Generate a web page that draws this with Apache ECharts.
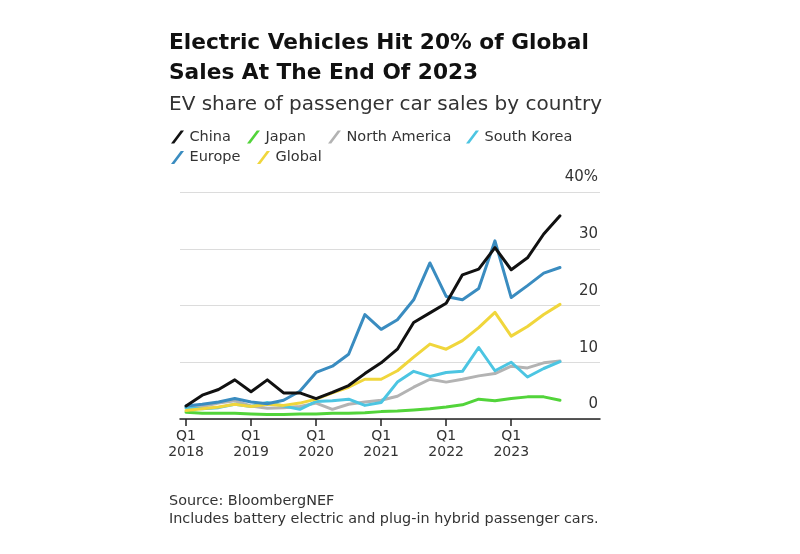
<!DOCTYPE html>
<html>
<head>
<meta charset="utf-8">
<script src="https://cdn.jsdelivr.net/npm/echarts@6/dist/echarts.min.js"></script>
<style>
    html, body { margin: 0; padding: 0; background: #fff; }
    #chart { width: 800px; height: 554px; }
</style>
</head>
<body>
<div id="chart"></div>
<script>
    // quarters Q1 2018 .. Q4 2023
    var quarters = [
        'Q1 2018', 'Q2 2018', 'Q3 2018', 'Q4 2018',
        'Q1 2019', 'Q2 2019', 'Q3 2019', 'Q4 2019',
        'Q1 2020', 'Q2 2020', 'Q3 2020', 'Q4 2020',
        'Q1 2021', 'Q2 2021', 'Q3 2021', 'Q4 2021',
        'Q1 2022', 'Q2 2022', 'Q3 2022', 'Q4 2022',
        'Q1 2023', 'Q2 2023', 'Q3 2023', 'Q4 2023'
    ];
    var tickQuarters = [0, 4, 8, 12, 16, 20];
    var yTicks = [0, 10, 20, 30, 40];

    var china        = [2.3, 4.2, 5.2, 6.9, 4.8, 6.9, 4.6, 4.6, 3.6, 4.7, 5.9, 8.0, 9.9, 12.3, 17.0, 18.7, 20.4, 25.4, 26.4, 30.2, 26.3, 28.4, 32.6, 35.8];
    var japan        = [1.2, 1.0, 1.0, 1.0, 0.9, 0.8, 0.8, 0.9, 0.9, 1.0, 1.0, 1.1, 1.3, 1.4, 1.6, 1.8, 2.1, 2.5, 3.5, 3.2, 3.6, 3.9, 3.9, 3.3];
    var northAmerica = [2.0, 2.2, 2.8, 3.2, 2.3, 1.9, 2.0, 2.2, 2.8, 1.7, 2.6, 3.0, 3.3, 4.0, 5.6, 7.0, 6.5, 7.0, 7.6, 8.0, 9.3, 9.0, 9.9, 10.2];
    var southKorea   = [2.0, 1.8, 2.0, 2.6, 2.2, 2.9, 2.3, 1.7, 3.1, 3.2, 3.5, 2.4, 2.9, 6.5, 8.4, 7.5, 8.2, 8.4, 12.6, 8.5, 10.0, 7.4, 8.9, 10.1];
    var europe       = [2.3, 2.6, 3.0, 3.6, 3.0, 2.7, 3.3, 4.9, 8.2, 9.3, 11.4, 18.4, 15.8, 17.5, 21.0, 27.5, 21.6, 21.0, 23.0, 31.4, 21.4, 23.5, 25.7, 26.7];
    var global       = [1.5, 1.8, 2.1, 2.6, 2.2, 2.6, 2.4, 2.8, 3.5, 4.6, 5.6, 7.0, 7.0, 8.5, 10.9, 13.2, 12.3, 13.8, 16.1, 18.8, 14.6, 16.3, 18.4, 20.2];

    var seriesNames  = ['China', 'Japan', 'North America', 'South Korea', 'Europe', 'Global'];
    var seriesValues = [china, japan, northAmerica, southKorea, europe, global];
    var seriesColors = ['#111111', '#52d43a', '#b3b3b3', '#4cc5e2', '#3a8cc0', '#f0d63c'];
    // drawing order (last on top)
    var drawOrder = [1, 2, 3, 5, 4, 0];
    // legend placement, one legend component per item
    var legendPos = [[171, 129.5], [247, 129.5], [328, 129.5], [466, 129.5], [171, 150], [257, 150]];

    var font = "'DejaVu Sans', 'Liberation Sans', Arial, sans-serif";

    function toPairs(arr) {
        return arr.map(function (v, i) { return [i, v]; });
    }

    var myChart = echarts.init(document.getElementById('chart'), null, { renderer: 'canvas' });

    var series = drawOrder.map(function (k) {
        return {
            name: seriesNames[k],
            type: 'line',
            data: toPairs(seriesValues[k]),
            symbol: 'none',
            smooth: false,
            lineStyle: { color: seriesColors[k], width: 3, join: 'round', cap: 'round' },
            itemStyle: { color: seriesColors[k] },
            emphasis: { disabled: true },
            animation: false
        };
    });

    var legends = seriesNames.map(function (name, k) {
        return {
            data: [name],
            left: legendPos[k][0],
            top: legendPos[k][1],
            padding: 0,
            icon: 'path://M0,12 L9,0 L12,0 L3,12 Z',
            itemWidth: 14,
            itemHeight: 13,
            itemStyle: { borderWidth: 0 },
            textStyle: { fontFamily: font, fontSize: 14.5, color: '#333' },
            selectedMode: false
        };
    });

    myChart.setOption({
        backgroundColor: '#ffffff',
        animation: false,
        title: [
            {
                text: 'Electric Vehicles Hit 20% of Global\nSales At The End Of 2023',
                left: 169,
                top: 28,
                padding: 0,
                textStyle: { fontFamily: font, fontSize: 21.7, fontWeight: 'bold', color: '#111', lineHeight: 30.5 }
            },
            {
                text: 'EV share of passenger car sales by country',
                left: 169,
                top: 94.5,
                padding: 0,
                textStyle: { fontFamily: font, fontSize: 20, fontWeight: 'normal', color: '#333', lineHeight: 21 }
            },
            {
                text: 'Source: BloombergNEF\nIncludes battery electric and plug-in hybrid passenger cars.',
                left: 169,
                top: 492,
                padding: 0,
                textStyle: { fontFamily: font, fontSize: 14.4, fontWeight: 'normal', color: '#333', lineHeight: 18.5 }
            }
        ],
        legend: legends,
        grid: { left: 180, right: 200, top: 192, bottom: 135, containLabel: false },
        xAxis: {
            type: 'value',
            min: -0.37,
            max: 25.46,
            splitLine: { show: false },
            axisLine: { show: true, lineStyle: { color: '#222', width: 1.5 } },
            axisTick: { show: true, customValues: tickQuarters, length: 7, lineStyle: { color: '#222', width: 1.5 } },
            axisLabel: {
                customValues: tickQuarters,
                margin: 9,
                fontFamily: font,
                fontSize: 14,
                color: '#333',
                lineHeight: 16,
                formatter: function (v) {
                    var q = quarters[Math.round(v)];
                    return q ? q.replace(' ', '\n') : '';
                }
            }
        },
        yAxis: {
            type: 'value',
            position: 'right',
            min: 0,
            max: 40,
            interval: 10,
            axisLine: { show: false },
            axisTick: { show: false },
            splitLine: { show: true, lineStyle: { color: '#dcdcdc', width: 1 } },
            axisLabel: {
                inside: true,
                margin: 2,
                fontFamily: font,
                fontSize: 15,
                color: '#333',
                verticalAlign: 'bottom',
                padding: [0, 0, 7, 0],
                formatter: function (v) {
                    return v === yTicks[yTicks.length - 1] ? v + '%' : String(v);
                }
            }
        },
        series: series
    });
</script>
</body>
</html>
